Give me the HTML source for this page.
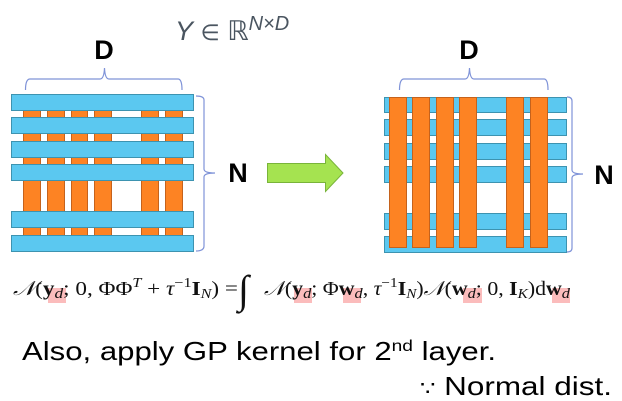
<!DOCTYPE html>
<html><head><meta charset="utf-8"><style>
html,body{margin:0;padding:0;background:#fff;width:622px;height:401px;overflow:hidden}
</style></head><body>
<svg width="622" height="401" viewBox="0 0 622 401" xmlns="http://www.w3.org/2000/svg">
<g stroke="#3d93b0" stroke-width="1" fill="#5bc8f0">
 <g fill="#fd8323" stroke="#c5621c">
  <rect x="23.5" y="94.5" width="17" height="157"/>
  <rect x="47.5" y="94.5" width="17" height="157"/>
  <rect x="71.5" y="94.5" width="16" height="157"/>
  <rect x="94.5" y="94.5" width="17" height="157"/>
  <rect x="141.5" y="94.5" width="17" height="157"/>
  <rect x="165.5" y="94.5" width="17" height="157"/>
 </g>
 <rect x="11.5" y="94.5" width="182" height="16"/>
 <rect x="11.5" y="117.5" width="182" height="16"/>
 <rect x="11.5" y="141.5" width="182" height="16"/>
 <rect x="11.5" y="164.5" width="182" height="16"/>
 <rect x="11.5" y="211.5" width="182" height="16"/>
 <rect x="11.5" y="235.5" width="182" height="16"/>
 <rect x="384.5" y="97.5" width="182" height="15"/>
 <rect x="384.5" y="119.5" width="182" height="16"/>
 <rect x="384.5" y="143.5" width="182" height="16"/>
 <rect x="384.5" y="166.5" width="182" height="16"/>
 <rect x="384.5" y="213.5" width="182" height="16"/>
 <rect x="384.5" y="236.5" width="182" height="16"/>
 <g fill="#fd8323" stroke="#c5621c">
  <rect x="389.5" y="97.5" width="17" height="150"/>
  <rect x="412.5" y="97.5" width="17" height="150"/>
  <rect x="436.5" y="97.5" width="17" height="150"/>
  <rect x="459.5" y="97.5" width="17" height="150"/>
  <rect x="506.5" y="97.5" width="17" height="150"/>
  <rect x="530.5" y="97.5" width="17" height="150"/>
 </g>
</g>
<g fill="none" stroke="#7f93d8" stroke-width="1.2">
 <path d="M25.5 90 Q25.5 79 30 79 L100 79 Q104 79 104.5 68 Q105 79 109 79 L178 79 Q182 79 182 90"/>
 <path d="M399.5 90 Q399.5 79 404 79 L465 79 Q469 79 469.5 68 Q470 79 474 79 L544 79 Q548 79 548 90"/>
 <path d="M196 96 Q204 96 204 100 L204 169 Q204 173 215 173 Q204 173 204 177 L204 246 Q204 251 196 251"/>
 <path d="M567 97 Q572 97 572 101 L572 170 Q572 174 583 174 Q572 174 572 178 L572 248 Q572 252 567 252"/>
</g>
<g font-family="Liberation Sans, sans-serif" font-weight="bold" font-size="27" fill="#000" text-anchor="middle">
 <text x="104" y="59">D</text>
 <text x="469" y="59">D</text>
 <text x="238" y="182">N</text>
 <text x="604" y="184">N</text>
</g>
<path d="M267.5 163.5 L325.5 163.5 L325.5 154.5 L343 173 L325.5 191.5 L325.5 182.5 L267.5 182.5 Z" fill="#a5e350" stroke="#79b43a" stroke-width="1"/>
<text x="175" y="40" font-family="Liberation Sans, DejaVu Sans, sans-serif" font-size="27" fill="#4a5560"><tspan font-style="italic">Y</tspan> <tspan font-size="22">∈</tspan> <tspan font-family="DejaVu Sans, sans-serif">ℝ</tspan><tspan dy="-10" font-style="italic" font-size="20">N×D</tspan></text>
<g fill="#fbbcbc">
 <rect x="48" y="288" width="18" height="15"/>
 <rect x="294" y="288" width="18" height="15"/>
 <rect x="343" y="288" width="18" height="15"/>
 <rect x="463" y="288" width="19" height="15"/>
 <rect x="552" y="288" width="18" height="15"/>
</g>
<g font-family="Liberation Serif, DejaVu Serif, serif" font-size="20" fill="#111">
 <text x="13" y="295" textLength="225" lengthAdjust="spacingAndGlyphs"><tspan font-style="italic">𝒩</tspan>(<tspan font-weight="bold">y</tspan><tspan font-style="italic" font-size="15" dy="3">d</tspan><tspan dy="-3">; 0, ΦΦ</tspan><tspan font-style="italic" font-size="14" dy="-8">T</tspan><tspan dy="8"> + </tspan><tspan font-style="italic">τ</tspan><tspan font-size="14" dy="-8">−1</tspan><tspan dy="8" font-weight="bold">I</tspan><tspan font-style="italic" font-size="14" dy="3">N</tspan><tspan dy="-3">) =</tspan></text>
 <text x="238" y="303" font-size="40" font-style="italic">∫</text>
 <text x="264" y="295" textLength="306" lengthAdjust="spacingAndGlyphs"><tspan font-style="italic">𝒩</tspan>(<tspan font-weight="bold">y</tspan><tspan font-style="italic" font-size="15" dy="3">d</tspan><tspan dy="-3">; Φ</tspan><tspan font-weight="bold">w</tspan><tspan font-style="italic" font-size="15" dy="3">d</tspan><tspan dy="-3">, </tspan><tspan font-style="italic">τ</tspan><tspan font-size="14" dy="-8">−1</tspan><tspan dy="8" font-weight="bold">I</tspan><tspan font-style="italic" font-size="14" dy="3">N</tspan><tspan dy="-3">)</tspan><tspan font-style="italic">𝒩</tspan>(<tspan font-weight="bold">w</tspan><tspan font-style="italic" font-size="15" dy="3">d</tspan><tspan dy="-3">; 0, </tspan><tspan font-weight="bold">I</tspan><tspan font-style="italic" font-size="14" dy="3">K</tspan><tspan dy="-3">)d</tspan><tspan font-weight="bold">w</tspan><tspan font-style="italic" font-size="15" dy="3">d</tspan></text>
</g>
<g font-family="Liberation Sans, sans-serif" font-size="26" fill="#000">
 <text x="22" y="360" textLength="474" lengthAdjust="spacingAndGlyphs">Also, apply GP kernel for 2<tspan font-size="16" dy="-9">nd</tspan><tspan dy="9"> layer.</tspan></text>
 <text x="420" y="395" textLength="192" lengthAdjust="spacingAndGlyphs"><tspan font-family="DejaVu Sans, sans-serif" font-size="20">∵</tspan> Normal dist.</text>
</g>
</svg>
</body></html>
